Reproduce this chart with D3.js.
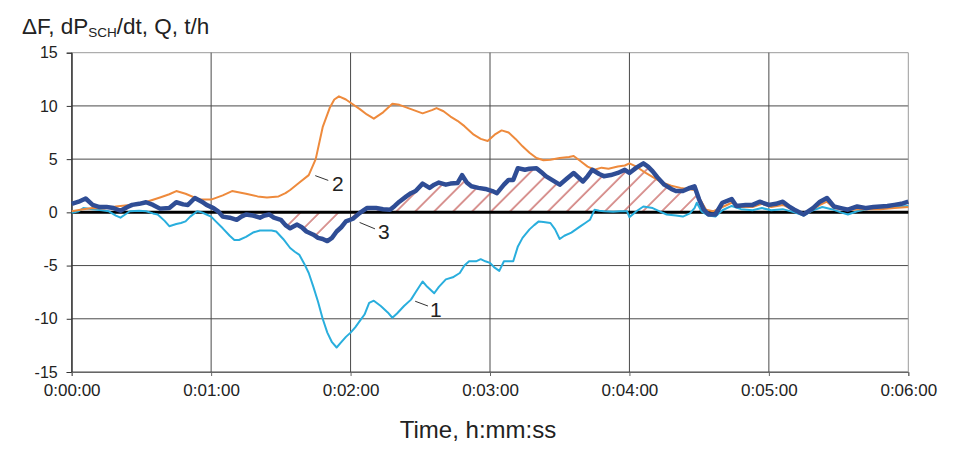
<!DOCTYPE html>
<html><head><meta charset="utf-8">
<script src="https://cdn.jsdelivr.net/npm/d3@7"></script>
<style>html,body{margin:0;padding:0;background:#fff;}svg{display:block;font-family:"Liberation Sans",Arial,sans-serif;}</style>
</head><body><svg id="c" width="971" height="475"></svg>
<script>
// ---- data (time in seconds, values in t/h) ----
const xTicks = [0, 60, 120, 180, 240, 300, 360];
const yTicks = [-15, -10, -5, 0, 5, 10, 15];

const orangeT = [0,5,9,14,19,25,31,38,42,45,49,55,60,65,69,75,80,84,89,92,94,98,102,105,108,111,113,115,118,120,124,127,130,134,138,141,146,151,155,157,160,163,166,169,173,176,179,182,185,188,191,194,197,200,203,206,210,214,216,219,222,225,228,231,235,238,240,243,247,251,254,258,262,265,268,271,273,276,280,284,287,293,297,301,306,311,315,319,322,325,328,334,338,342,348,354,360];
const orangeV = [0.1,0.3,0.4,0.35,0.55,0.7,0.9,1.4,1.7,2.0,1.75,1.2,1.2,1.6,2.0,1.75,1.5,1.4,1.5,1.8,2.1,2.8,3.5,5.0,8.0,9.8,10.6,10.9,10.6,10.3,9.7,9.2,8.8,9.4,10.2,10.1,9.7,9.3,9.6,9.8,9.5,9.0,8.6,8.1,7.3,6.9,6.7,7.3,7.7,7.5,6.9,6.2,5.6,5.1,4.9,4.95,5.1,5.2,5.3,4.8,4.3,4.0,4.2,4.1,4.3,4.4,4.6,4.3,3.7,3.2,2.8,2.5,2.3,2.2,2.1,1.0,0.25,0.1,0.5,0.9,0.5,0.5,0.8,0.5,0.7,0.2,-0.1,0.3,0.7,1.0,0.4,0.2,0.3,0.3,0.3,0.4,0.5];

const cyanT = [0,3,5,9,13,16,19,21,23,25,29,32,35,37,40,42,45,47,49,51,54,56,58,60,62,65,68,70,72,75,78,81,84,86,88,91,94,96,98,100,102,104,106,108,110,112,114,116,118,120,122,124,126,128,130,133,136,138,140,143,146,148,151,153,156,158,161,164,167,169,171,174,176,178,180,182,184,186,190,192,194,197,199,201,203,206,208,210,212,215,217,219,221,223,225,227,229,233,236,239,240,243,246,250,253,256,260,263,266,268,269,271,274,277,280,284,288,293,297,301,306,311,315,319,323,327,331,334,338,342,348,354,360];
const cyanV = [-0.05,0.1,0.4,0.3,0.2,0.1,-0.3,-0.5,-0.2,0.1,0.15,0.1,-0.1,-0.2,-0.8,-1.3,-1.1,-1.0,-0.85,-0.4,0.1,0.0,-0.2,-0.4,-0.85,-1.5,-2.2,-2.6,-2.6,-2.3,-1.9,-1.7,-1.7,-1.7,-1.8,-2.5,-3.35,-3.7,-4.0,-4.8,-5.7,-7.0,-8.4,-10.0,-11.3,-12.2,-12.7,-12.2,-11.7,-11.3,-10.8,-10.2,-9.6,-8.5,-8.3,-8.8,-9.4,-9.9,-9.5,-8.8,-8.2,-7.5,-6.5,-7.0,-7.6,-7.0,-6.3,-6.1,-5.7,-5.0,-4.6,-4.6,-4.4,-4.6,-4.75,-5.2,-5.5,-4.6,-4.6,-3.2,-2.4,-1.6,-1.2,-0.85,-0.9,-1.0,-1.6,-2.5,-2.2,-1.9,-1.6,-1.3,-1.0,-0.7,0.25,0.15,0.1,0.05,0.1,0.1,-0.45,0.1,0.55,0.4,0.1,-0.2,-0.3,-0.4,-0.1,0.4,0.9,0.1,-0.3,-0.4,0.2,0.6,0.3,0.2,0.4,0.2,0.3,0.0,-0.3,0.2,0.5,0.3,0.0,-0.2,0.1,0.3,0.4,0.5,0.6];

const blueT = [0,3,6,9,12,15,18,21,24,26,29,32,35,38,42,45,48,50,53,56,58,61,63,65,68,71,73,75,78,81,83,85,87,90,92,94,97,99,101,104,106,108,110,112,114,116,118,121,124,127,131,134,137,139,141,144,146,148,151,154,156,158,161,163,166,168,170,172,175,178,181,183,186,188,190,192,195,197,200,202,204,207,210,213,216,218,220,222,224,227,229,232,235,238,240,243,246,248,250,252,255,258,260,263,266,268,270,272,274,277,280,284,286,290,293,296,300,303,306,309,311,315,319,322,325,328,331,334,338,342,345,348,351,354,357,360];
const blueV = [0.8,1.0,1.3,0.7,0.5,0.5,0.4,0.15,0.5,0.7,0.8,0.95,0.7,0.35,0.4,0.95,0.75,0.7,1.35,1.0,0.7,0.4,0.1,-0.4,-0.5,-0.7,-0.4,-0.2,-0.3,-0.5,-0.3,-0.2,-0.5,-0.7,-1.2,-1.5,-1.15,-1.4,-1.8,-2.1,-2.4,-2.5,-2.7,-2.4,-1.8,-1.4,-0.85,-0.6,-0.05,0.4,0.4,0.3,0.25,0.6,1.0,1.5,1.8,2.0,2.7,2.3,2.6,2.8,2.6,2.7,2.75,3.5,2.8,2.45,2.3,2.2,2.0,1.8,2.6,3.05,3.05,4.15,4.0,4.1,4.15,3.8,3.4,3.0,2.6,3.15,3.7,3.3,2.9,3.4,4.0,3.6,3.4,3.5,3.7,4.0,3.7,4.2,4.6,4.3,3.85,3.3,2.6,2.2,2.0,2.0,2.3,2.45,1.2,0.25,-0.2,-0.2,0.9,1.25,0.6,0.7,0.7,1.0,0.7,0.8,1.0,0.5,0.25,-0.2,0.4,1.0,1.35,0.55,0.4,0.25,0.55,0.4,0.5,0.55,0.6,0.7,0.8,1.0];

const hatchStart = 91, hatchEnd = 272;   // seconds, shaded span of curve 3

const titleMain = "ΔF, dP", titleSub = "SCH", titleRest = "/dt, Q, t/h";
const xTitle = "Time, h:mm:ss";
// annotation labels: [label, leader from (t,v), leader to (t,v), text at (t,v)]
const annotations = [
  ["2", [104.8, 3.45], [110.4, 3.0], [112.0, 1.97]],
  ["3", [123.9, -0.95], [130.5, -1.55], [131.8, -2.47]],
  ["1", [147.8, -8.35], [153.3, -8.8], [154.2, -9.8]]
];

// ---- layout ----
const svg = d3.select("#c");
const W = 971, H = 475;
const L = 71.7, R = 908.3, T = 52.7, B = 372;
const x = d3.scaleLinear().domain([0, 360]).range([L, R]);
const y = d3.scaleLinear().domain([-15, 15]).range([B, T]);
const fmt = s => { const m = Math.floor(s / 60), ss = s % 60; return "0:" + String(m).padStart(2, "0") + ":" + String(ss).padStart(2, "0"); };

svg.append("rect").attr("width", W).attr("height", H).attr("fill", "#fff");

// hatch pattern
const defs = svg.append("defs");
const pat = defs.append("pattern").attr("id", "hatch").attr("patternUnits", "userSpaceOnUse")
  .attr("width", 13.4).attr("height", 13.4).attr("patternTransform", "rotate(45)");
pat.append("line").attr("x1", 1).attr("y1", 0).attr("x2", 1).attr("y2", 13.4)
  .attr("stroke", "#c0504d").attr("stroke-width", 1.2);

// grid
const g = svg.append("g");
g.selectAll("line.h").data(yTicks).join("line")
  .attr("x1", L).attr("x2", R).attr("y1", d => y(d)).attr("y2", d => y(d))
  .attr("stroke", d => d === 15 ? "#9a9a9a" : "#4a4a4a").attr("stroke-width", 1);
g.selectAll("line.v").data(xTicks).join("line")
  .attr("y1", T).attr("y2", B).attr("x1", d => x(d)).attr("x2", d => x(d))
  .attr("stroke", d => d === 360 ? "#9a9a9a" : (d === 0 ? "#333" : "#4a4a4a")).attr("stroke-width", 1);

// axes (ticks + labels)
const yAxis = d3.axisLeft(y).tickValues(yTicks).tickFormat(d => String(d)).tickSize(5).tickPadding(9);
const ya = svg.append("g").attr("transform", `translate(${L},0)`).call(yAxis);
ya.select(".domain").attr("stroke", "#333");
ya.selectAll(".tick line").attr("stroke", "#333");
ya.selectAll("text").attr("font-size", 16).attr("fill", "#222").attr("font-family", "Liberation Sans, Arial, sans-serif");

const xAxis = d3.axisBottom(x).tickValues(xTicks).tickFormat(fmt).tickSize(4).tickPadding(8);
const xa = svg.append("g").attr("transform", `translate(0,${B})`).call(xAxis);
xa.select(".domain").attr("stroke", "#666");
xa.selectAll(".tick line").attr("stroke", "#666");
xa.selectAll("text").attr("font-size", 17).attr("fill", "#222").attr("font-family", "Liberation Sans, Arial, sans-serif");

// hatched area between curve 3 and zero
const blue = blueT.map((t, i) => [t, blueV[i]]);
const interp = t => { for (let i = 1; i < blue.length; i++) { if (blue[i][0] >= t) { const a = blue[i-1], b = blue[i]; return a[1] + (b[1]-a[1]) * (t - a[0]) / (b[0]-a[0]); } } return blue[blue.length-1][1]; };
const hatchData = [[hatchStart, interp(hatchStart)], ...blue.filter(d => d[0] > hatchStart && d[0] < hatchEnd), [hatchEnd, interp(hatchEnd)]];
svg.append("path").datum(hatchData)
  .attr("d", d3.area().x(d => x(d[0])).y0(y(0)).y1(d => y(d[1])))
  .attr("fill", "url(#hatch)").attr("stroke", "none");

// zero line
svg.append("line").attr("x1", x(0)).attr("x2", x(360)).attr("y1", y(0)).attr("y2", y(0))
  .attr("stroke", "#000").attr("stroke-width", 3);

const line = d3.line().x(d => x(d[0])).y(d => y(d[1])).curve(d3.curveLinear);
svg.append("path").datum(cyanT.map((t, i) => [t, cyanV[i]])).attr("d", line)
  .attr("fill", "none").attr("stroke", "#29aedd").attr("stroke-width", 2).attr("stroke-linejoin", "round");
svg.append("path").datum(orangeT.map((t, i) => [t, orangeV[i]])).attr("d", line)
  .attr("fill", "none").attr("stroke", "#ee8a3c").attr("stroke-width", 2).attr("stroke-linejoin", "round");
svg.append("path").datum(blue).attr("d", line)
  .attr("fill", "none").attr("stroke", "#2f4d95").attr("stroke-width", 4.5).attr("stroke-linejoin", "round");

// annotations
annotations.forEach(([lab, a, b, p]) => {
  svg.append("line").attr("x1", x(a[0])).attr("y1", y(a[1])).attr("x2", x(b[0])).attr("y2", y(b[1]))
    .attr("stroke", "#333").attr("stroke-width", 1);
  svg.append("text").attr("x", x(p[0])).attr("y", y(p[1])).text(lab)
    .attr("font-size", 21).attr("fill", "#222");
});

// titles
const tt = svg.append("text").attr("x", 22).attr("y", 34).attr("font-size", 22.5).attr("fill", "#222");
tt.append("tspan").text(titleMain);
tt.append("tspan").text(titleSub).attr("font-size", 13.5).attr("dy", 3);
tt.append("tspan").text(titleRest).attr("dy", -3);

svg.append("text").attr("x", 478).attr("y", 438).attr("text-anchor", "middle")
  .attr("font-size", 24).attr("fill", "#222").text(xTitle);
</script></body></html>
